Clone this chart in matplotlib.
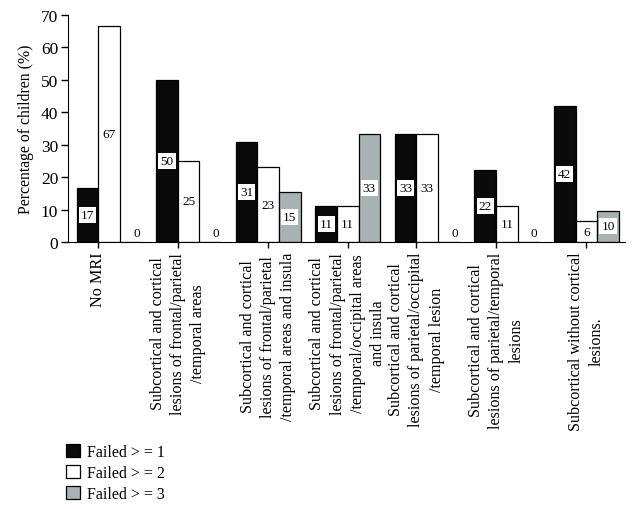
#!/usr/bin/env python
import numpy as np
import matplotlib
matplotlib.use('Agg')
import matplotlib.pyplot as plt

categories = ['No MRI',
              'Subcortical and cortical\nlesions of frontal/parietal\n/temporal areas',
              'Subcortical and cortical\nlesions of frontal/parietal\n/temporal areas and insula',
              'Subcortical and cortical\nlesions of frontal/parietal\n/temporal/occipital areas\nand insula',
              'Subcortical and cortical\nlesions of parietal/occipital\n/temporal lesion',
              'Subcortical and cortical\nlesions of parietal/temporal\nlesions',
              'Subcortical without cortical\nlesions.']
failed1 = [16.7, 50.0, 30.8, 11.1, 33.3, 22.2, 41.9]
failed2 = [66.7, 25.0, 23.1, 11.1, 33.3, 11.1, 6.45]
failed3 = [0.0, 0.0, 15.4, 33.3, 0.0, 0.0, 9.68]
series_names = ['Failed > = 1', 'Failed > = 2', 'Failed > = 3']

plt.rcParams['font.family'] = ['Liberation Serif', 'DejaVu Serif']


def main():
    fig = plt.figure(figsize=(6.37, 5.10), dpi=100)
    ax = fig.add_axes([68/637, 1-243/510, (625-68)/637, (243-16)/510])

    w = 0.272
    x = np.arange(len(categories))
    colors = ['#0a0a0a', 'white', '#a9b2b2']
    series = [failed1, failed2, failed3]

    for j, (vals, col, name) in enumerate(zip(series, colors, series_names)):
        pos = x + (j - 1) * w
        ax.bar(pos, vals, width=w, color=col, edgecolor='black', linewidth=0.9,
               label=name)
        for px, v in zip(pos, vals):
            txt = '%d' % round(v)
            if v == 0:
                ax.text(px + 0.07, 1.0, txt, ha='center', va='bottom', fontsize=9.5)
            elif col == 'white':
                ax.text(px, v / 2, txt, ha='center', va='center', fontsize=9.5)
            else:
                ax.text(px, v / 2, txt, ha='center', va='center', fontsize=9.5,
                        bbox=dict(boxstyle='square,pad=0.15', fc='white', ec='none'))

    # tick sits in the middle of the bars that are non-zero
    ticks = []
    for i in range(len(categories)):
        offs = [(j - 1) * w for j in range(3) if series[j][i] > 0]
        ticks.append(x[i] + np.mean(offs))
    ax.set_xticks(ticks)
    ax.set_xticklabels(categories, rotation=90, ha='center', va='top',
                       multialignment='center', fontsize=11.6, linespacing=1.35)

    ax.set_xlim(-0.517, 6.486)
    ax.set_ylim(0, 70)
    ax.set_yticks(range(0, 71, 10))
    ax.tick_params(axis='y', labelsize=12.5, length=5, width=1, pad=2)
    ax.tick_params(axis='x', length=4.5, width=1, pad=2.5)
    ax.spines['top'].set_visible(False)
    ax.spines['right'].set_visible(False)
    ax.set_ylabel('Percentage of children (%)', fontsize=11.3, labelpad=5)

    fig.legend(loc='upper left', bbox_to_anchor=(66/637, 1-445/510), frameon=False,
               fontsize=11.5, handlelength=0.9, handleheight=0.9,
               handletextpad=0.4, labelspacing=0.3, borderpad=0, borderaxespad=0)

    fig.savefig('out.png', dpi=100)


if __name__ == '__main__':
    main()
